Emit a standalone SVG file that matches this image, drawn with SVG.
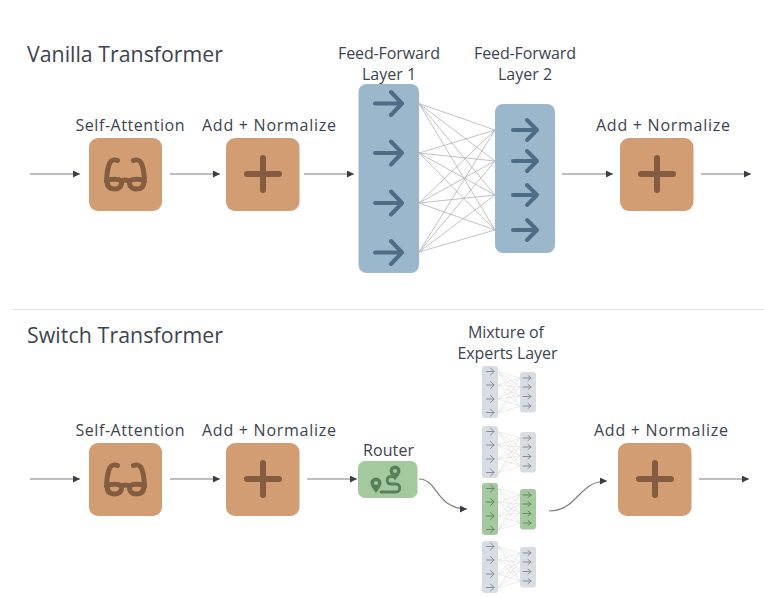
<svg xmlns="http://www.w3.org/2000/svg" width="764" height="597" viewBox="0 0 764 597">
<style>
text{font-family:"Open Sans","Noto Sans","Liberation Sans",sans-serif;fill:#3b4450}
.t{font-size:21.300px}
.l{font-size:16px;text-anchor:middle}
.o{fill:#d39d73}
.oi{fill:none;stroke:#845d40;stroke-linecap:round;stroke-linejoin:round}
.b{fill:#9ab7cc}
.bi{fill:none;stroke:#4d6d86;stroke-width:4;stroke-linecap:round;stroke-linejoin:round}
.n{stroke:#b4b4b4;stroke-width:.8;fill:none}
.c{stroke:#7f7f7f;stroke-width:1.2;fill:none;marker-end:url(#h)}
.g{fill:#d8dce3}
.gi{fill:none;stroke:#888d94;stroke-width:1;stroke-linecap:round;stroke-linejoin:round}
.gn{stroke:#e0e0e0;stroke-width:.6;fill:none}
.gg{fill:#a5c99e}
.ggi{fill:none;stroke:#5f8a63;stroke-width:1;stroke-linecap:round;stroke-linejoin:round}
</style>
<defs>
<marker id="h" markerUnits="userSpaceOnUse" markerWidth="8" markerHeight="8" refX="7" refY="3.5" orient="auto"><path d="M0 0L7 3.5L0 7Z" fill="#3a3f45"/></marker>
<g id="plus"><rect class="o" x="0" y="0" width="73.500" height="73" rx="9"/><path class="oi" stroke-width="6" d="M37 20V52M21 36H53"/></g>
<g id="glasses"><rect class="o" x="0" y="0" width="73" height="73" rx="9"/><g class="oi" stroke-width="5"><path d="M17.500 43C18 33 19.500 27 21 24.500C22.500 22 26 21.500 28.500 22.500"/><path d="M55.500 43C55 33 53.500 27 52 24.500C50.500 22 47 21.500 44.500 22.500"/><path d="M32.500 43C34.500 41.500 38.500 41.500 40.500 43"/><path d="M18 43C21 40.500 29.500 40.500 32.500 43C33 48 30.500 51 25.500 51C20.500 51 18 48 18 43Z"/><path d="M40.500 43C43.500 40.500 52 40.500 55 43C55 48 52.500 51 47.500 51C42.500 51 40 48 40.500 43Z"/></g></g>
<g id="expGrid"><path class="gn" d="M16 5.500L38 12M16 5.500L38 21M16 5.500L38 30M16 5.500L38 40M16 19L38 12M16 19L38 21M16 19L38 30M16 19L38 40M16 33L38 12M16 33L38 21M16 33L38 30M16 33L38 40M16 47L38 12M16 47L38 21M16 47L38 30M16 47L38 40"/></g>
<path id="expA" d="M4.500 5.500H12M8.500 2L12 5.500L8.500 9M4.500 19H12M8.500 15.500L12 19L8.500 22.500M4.500 33H12M8.500 29.500L12 33L8.500 36.500M4.500 46.500H12M8.500 43L12 46.500L8.500 50"/>
<path id="expB" d="M41 12H49M46 9.500L49 12L46 14.500M41 21H49M46 18.500L49 21L46 23.500M41 30.500H49M46 28L49 30.500L46 33M41 40H49M46 37.500L49 40L46 42.500"/>
<g id="exp"><use href="#expGrid"/><rect class="g" x="0" y="0" width="16" height="52" rx="3"/><rect class="g" x="38" y="6" width="16" height="40.500" rx="3"/><use class="gi" href="#expA"/><use class="gi" href="#expB"/></g>
</defs>

<text class="t" x="27" y="62" textLength="196">Vanilla Transformer</text>
<rect x="12" y="309" width="752" height="1" fill="#e6e6e6"/>
<text class="t" x="27" y="343" textLength="196">Switch Transformer</text>

<g id="connectors">
<path class="c" d="M30 174H80"/><path class="c" d="M170 174H220"/><path class="c" d="M304 174H354"/><path class="c" d="M562 174H613"/><path class="c" d="M701 174H751"/>
<path class="c" d="M30 479H80"/><path class="c" d="M170 479H220"/><path class="c" d="M307 479H357"/><path class="c" d="M699 479H749"/>
<path class="c" d="M419 479C438 479 436 509 467 509"/><path class="c" d="M549 511C578 511 578 481 607 481"/>
<path class="n" d="M419 103.500L495 130M419 103.500L495 161M419 103.500L495 195M419 103.500L495 230M419 153L495 130M419 153L495 161M419 153L495 195M419 153L495 230M419 203L495 130M419 203L495 161M419 203L495 195M419 203L495 230M419 252L495 130M419 252L495 161M419 252L495 195M419 252L495 230"/>
</g>

<g id="self-attention-1"><text class="l" x="130" y="131" textLength="109">Self-Attention</text><use href="#glasses" x="89" y="138"/></g>
<g id="add-norm-1"><text class="l" x="269" y="131" textLength="134">Add + Normalize</text><use href="#plus" x="226" y="138"/></g>
<g id="ff-layer-1"><text class="l" x="389" y="59" textLength="102">Feed-Forward</text><text class="l" x="389" y="80">Layer 1</text><rect class="b" x="358.500" y="84" width="60.500" height="189" rx="8"/><path class="bi" d="M375 103.500H402M391 92L402 103.500L391 115M375 153H402M391 141.500L402 153L391 164.500M375 203H402M391 191.500L402 203L391 214.500M375 252.500H402M391 241L402 252.500L391 264"/></g>
<g id="ff-layer-2"><text class="l" x="525" y="59" textLength="102">Feed-Forward</text><text class="l" x="525" y="80">Layer 2</text><rect class="b" x="495" y="104" width="60" height="149" rx="8"/><path class="bi" d="M513 130H537M527 120L537 130L527 140M513 161H537M527 151L537 161L527 171M513 195H537M527 185L537 195L527 205M513 230H537M527 220L537 230L527 240"/></g>
<g id="add-norm-2"><text class="l" x="663" y="131" textLength="134">Add + Normalize</text><use href="#plus" x="620" y="138"/></g>

<g id="self-attention-2"><text class="l" x="130" y="436" textLength="109">Self-Attention</text><use href="#glasses" x="89" y="443"/></g>
<g id="add-norm-3"><text class="l" x="269" y="436" textLength="134">Add + Normalize</text><use href="#plus" x="226" y="443"/></g>
<g id="router"><text class="l" x="388.500" y="456" textLength="51">Router</text><rect class="gg" x="358" y="461" width="59.500" height="37" rx="7"/>
<path fill="none" stroke="#56805a" stroke-width="2.800" stroke-linecap="round" stroke-linejoin="round" d="M394 476.500H390.500C386 476.500 386 484 390.500 484H396C401 484 401 492 396 492H381"/>
<path fill="#56805a" d="M395 465.500a5.500 5.500 0 0 1 5.500 5.500c0 3-3 6-5.500 9c-2.500-3-5.500-6-5.500-9a5.500 5.500 0 0 1 5.500-5.500z"/>
<path fill="#56805a" d="M376 477.500a5.500 5.500 0 0 1 5.500 5.500c0 3-3 6.500-5.500 10c-2.500-3.500-5.500-7-5.500-10a5.500 5.500 0 0 1 5.500-5.500z"/><circle cx="376" cy="483" r="2" fill="#a5c99e"/><circle cx="395" cy="471" r="2" fill="#a5c99e"/></g>
<g id="moe"><text class="l" x="506" y="338" textLength="76">Mixture of</text><text class="l" x="507.500" y="358.500" textLength="100">Experts Layer</text>
<g id="expert-1" transform="translate(482 366)"><use href="#exp"/></g>
<g id="expert-2" transform="translate(482 426)"><use href="#exp"/></g>
<g id="expert-3" transform="translate(482 483)"><use href="#expGrid"/><rect class="gg" x="0" y="0" width="16" height="52" rx="3"/><rect class="gg" x="38" y="6" width="16" height="40.500" rx="3"/><use class="ggi" href="#expA"/><use class="ggi" href="#expB"/></g>
<g id="expert-4" transform="translate(482 541)"><use href="#exp"/></g>
</g>
<g id="add-norm-4"><text class="l" x="661" y="436" textLength="134">Add + Normalize</text><use href="#plus" x="618" y="443"/></g>
</svg>
